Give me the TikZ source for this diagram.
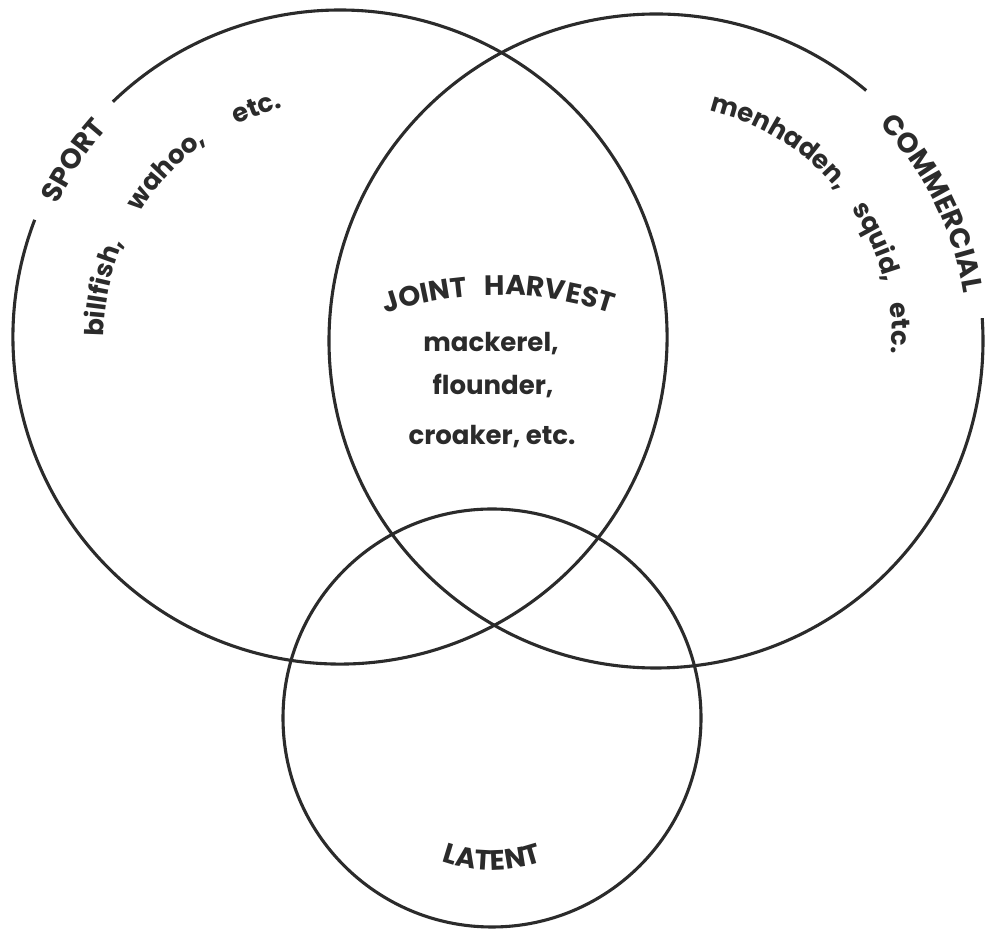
\documentclass[tikz,border=0pt]{standalone}
\usepackage{fontspec}
\setmainfont{Poppins}
\usetikzlibrary{decorations.text}
\definecolor{ink}{HTML}{2B2B2B}
\tikzset{
  ring/.style={draw=ink, line width=3.1pt},
  arctext/.style={decorate, decoration={text along path, text color=ink, text align=center, text={#1}}},
  fittext/.style={decorate, decoration={text along path, text color=ink, text align={fit to path stretching spaces}, text={#1}}},
  fishline/.style={text=ink, font=\bfseries\fontsize{26}{26}\selectfont, anchor=base, inner sep=0pt}
}
\newcommand\capsfont{\bfseries\fontsize{28}{28}\selectfont}
\newcommand\fishfont{\bfseries\fontsize{26}{26}\selectfont}
\begin{document}
\begin{tikzpicture}[x=1pt,y=1pt]
\useasboundingbox (0,0) rectangle (988,931);
\coordinate (sport) at (340,594);
\coordinate (comm) at (656,590);
\coordinate (latent) at (492,213);
\coordinate (joint) at (498.5,282);

% the three circles, the two upper ones open where their labels sit
\draw[ring] (sport) ++(159:327) arc[start angle=159, end angle=494, radius=327];
\draw[ring] (comm) ++(50:327) arc[start angle=50, end angle=364, radius=327];
\draw[ring] (latent) circle[radius=209];

% circle labels
\path[arctext={|\capsfont|SPORT}] (sport) ++(162:312) arc[start angle=162, end angle=131, radius=312];
\path[arctext={|\capsfont|COMMERCIAL}] (comm) ++(55:311) arc[start angle=55, end angle=-2, radius=311];
\path[arctext={|\capsfont|LATENT}] (latent) ++(240:152) arc[start angle=240, end angle=300, radius=152];

% species lists
\path[fittext={|\fishfont|billfish, wahoo, etc.}] (sport) ++(180:236) arc[start angle=180, end angle=104, radius=236];
\path[fittext={|\fishfont|menhaden, squid, etc.}] (comm) ++(77:236) arc[start angle=77, end angle=-3, radius=236];

% overlap region
\path[fittext={|\capsfont|JOINT HARVEST}] (joint) ++(108.6:354) arc[start angle=108.6, end angle=71.4, radius=354];
\node[fishline] (mack) at (491,579) {mackerel,};
\node[fishline] (flou) at (493,536) {flounder,};
\node[fishline] (croak) at (492,486) {croaker, etc.};
\end{tikzpicture}
\end{document}
